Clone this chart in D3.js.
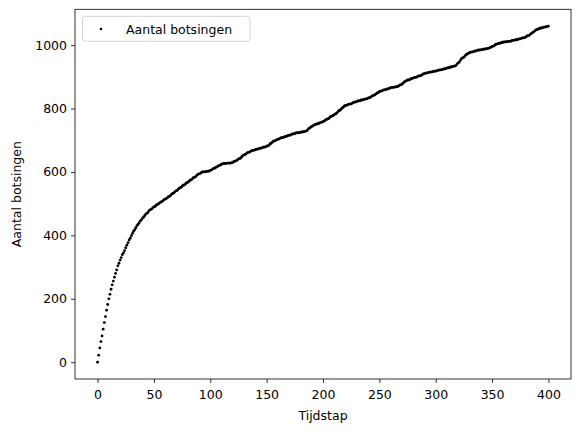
<!DOCTYPE html>
<html><head><meta charset="utf-8">
<script src="https://cdn.jsdelivr.net/npm/d3@7"></script>
<style>body{margin:0;background:#fff}svg{display:block;font-family:"DejaVu Sans",sans-serif}</style>
</head><body><svg id="c" width="580" height="432"></svg>
<script>
const seriesName = "Aantal botsingen";
const xLabel = "Tijdstap";
const yLabel = "Aantal botsingen";
const xTicks = [0,50,100,150,200,250,300,350,400];
const yTicks = [0,200,400,600,800,1000];
const collisions = [
0,22,45,65,83,104,125,144,164,182,
200,214,230,244,256,268,280,291,304,312,
322,330,339,345,352,361,369,377,385,391,
399,406,413,418,424,431,435,440,446,449,
455,458,463,468,470,474,479,481,483,487,
490,491,495,498,499,502,505,506,509,513,
514,516,519,522,523,527,531,532,535,539,
541,543,547,550,551,555,558,559,562,566,
567,570,574,575,578,582,583,585,589,592,
594,595,598,600,600,600,601,602,602,603,
605,606,609,611,612,615,616,619,620,622,
624,626,626,627,627,628,628,628,628,629,
630,633,634,635,638,641,642,644,648,652,
654,655,658,661,662,663,665,668,668,669,
670,672,672,673,675,675,676,678,678,679,
681,682,684,689,690,694,697,698,699,702,
703,704,706,708,708,709,711,712,713,715,
716,716,718,720,720,721,723,723,724,724,
725,726,726,727,728,729,731,736,738,741,
744,745,748,749,751,752,752,755,756,757,
759,760,763,766,767,768,772,775,776,778,
781,783,785,789,793,794,798,802,804,808,
810,810,812,814,814,815,817,819,820,821,
822,824,824,825,827,827,828,830,830,831,
833,834,835,838,841,842,843,846,849,850,
853,855,855,857,859,859,860,862,862,864,
866,866,867,867,868,869,869,871,874,875,
876,880,884,885,888,890,890,891,894,895,
896,898,898,899,901,903,903,904,907,909,
910,912,912,913,914,915,915,916,917,918,
918,919,921,921,922,922,923,925,925,926,
928,928,929,931,931,932,934,934,936,941,
944,947,953,958,960,962,966,970,972,974,
976,978,978,979,981,981,982,984,984,985,
985,986,987,987,988,989,989,990,992,993,
996,997,998,1002,1003,1004,1006,1006,1007,1009,
1009,1010,1010,1011,1011,1012,1012,1013,1015,1015,
1016,1017,1017,1018,1020,1020,1021,1023,1023,1024,
1026,1029,1030,1031,1035,1037,1040,1042,1045,1048,
1049,1051,1052,1054,1054,1055,1057,1057,1058,1059,
1060
];
const data = collisions.map((v,i)=>({t:i, v:v}));

const svg = d3.select("#c");
const L=75, R=571, T=9.3, B=379;
const xMax = d3.max(data,d=>d.t), yMax = d3.max(data,d=>d.v);
const x = d3.scaleLinear().domain([-0.05*xMax, 1.05*xMax]).range([L,R]);
const y = d3.scaleLinear().domain([-0.05*yMax, 1.05*yMax]).range([B,T]);
const fs = "12.5px";

// points
svg.append("g").selectAll("circle").data(data).join("circle")
  .attr("cx",d=>x(d.t)).attr("cy",d=>y(d.v)).attr("r",1.4).attr("fill","#000");

// axes
const xa = svg.append("g").attr("transform",`translate(0,${B})`)
  .call(d3.axisBottom(x).tickValues(xTicks).tickSize(4).tickPadding(4).tickFormat(d3.format("d")));
const ya = svg.append("g").attr("transform",`translate(${L},0)`)
  .call(d3.axisLeft(y).tickValues(yTicks).tickSize(4).tickPadding(4).tickFormat(d3.format("d")));
[xa,ya].forEach(a=>{
  a.select(".domain").remove();
  a.selectAll(".tick line").attr("stroke","#000").attr("stroke-width",0.8);
  a.selectAll(".tick text").attr("fill","#000").style("font-size",fs).style("font-family","DejaVu Sans");
});
xa.selectAll(".tick text").attr("dy","0.95em");

// frame
svg.append("rect").attr("x",L).attr("y",T).attr("width",R-L).attr("height",B-T)
  .attr("fill","none").attr("stroke","#000").attr("stroke-width",0.8);

// labels
svg.append("text").attr("x",(L+R)/2).attr("y",420).attr("text-anchor","middle")
  .style("font-size",fs).text(xLabel);
svg.append("text").attr("transform",`translate(21,${(T+B)/2}) rotate(-90)`).attr("text-anchor","middle")
  .style("font-size",fs).text(yLabel);

// legend
const lg = svg.append("g");
lg.append("rect").attr("x",82.5).attr("y",16.3).attr("width",167.5).attr("height",25)
  .attr("rx",2.5).attr("fill","#fff").attr("fill-opacity",0.8).attr("stroke","#ccc").attr("stroke-width",0.8);
lg.append("circle").attr("cx",101).attr("cy",29).attr("r",1.3).attr("fill","#000");
lg.append("text").attr("x",126).attr("y",33.5).style("font-size",fs).text(seriesName);
</script></body></html>
